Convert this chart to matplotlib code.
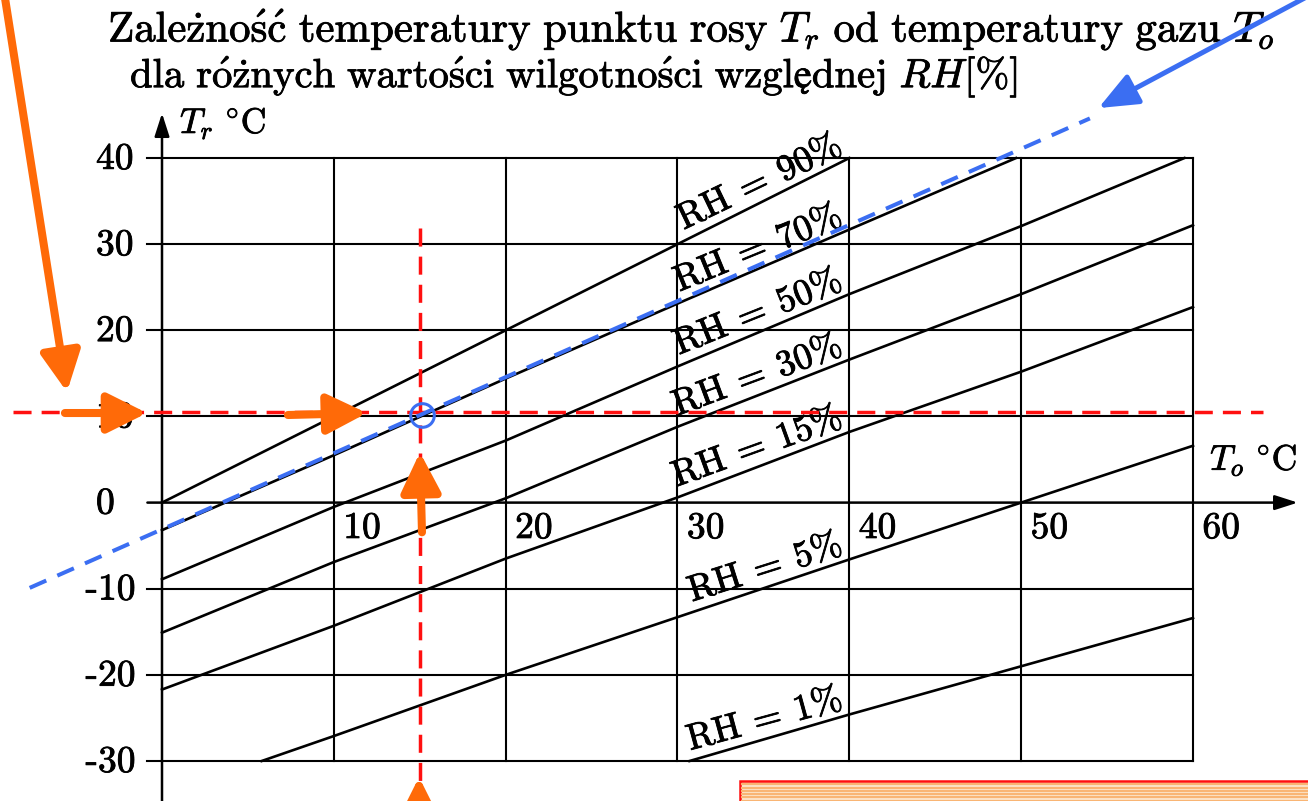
import numpy as np
import matplotlib.pyplot as plt
import matplotlib.patheffects as pe
from matplotlib.patches import Rectangle

plt.rcParams['mathtext.fontset'] = 'cm'

# dew point T_r vs gas temperature T_o
rh_names = ['90%', '70%', '50%', '30%', '15%', '5%', '1%']
to_90 = [0, 10, 20, 30, 40]
tr_90 = [0, 10, 20, 30, 40]
to_70 = [0, 10, 20, 30, 40, 49.7]
tr_70 = [-3.2, 5.5, 14.4, 23.1, 31.7, 40]
to_50 = [0, 10, 20, 30, 40, 50, 59.5]
tr_50 = [-8.9, -0.5, 7.2, 15.8, 24.2, 32.1, 40]
to_30 = [0, 10, 20, 30, 40, 50, 60]
tr_30 = [-15.1, -6.9, 0.5, 8.8, 16.6, 24.2, 32.2]
to_15 = [0, 10, 20, 30, 40, 50, 60]
tr_15 = [-21.7, -14.3, -6.5, 0.6, 8.2, 15.2, 22.7]
to_5 = [5.8, 10, 20, 30, 40, 50, 60]
tr_5 = [-30, -27.1, -20, -13.3, -6.6, 0, 6.6]
to_1 = [30.7, 40, 50, 60]
tr_1 = [-30, -24.6, -19.0, -13.4]
curves = [(to_90, tr_90), (to_70, tr_70), (to_50, tr_50), (to_30, tr_30),
          (to_15, tr_15), (to_5, tr_5), (to_1, tr_1)]

x_ticks = [10, 20, 30, 40, 50, 60]
y_ticks = [40, 30, 20, 10, 0, -10, -20, -30]

# worked example drawn over the chart
t_gas = 15.0
t_dew = 10.5
blue_to = [-7.7, 54.0]
blue_tr = [-9.9, 44.6]

# title, written as mathtext so it comes out in Computer Modern
title_1 = (r'$\mathrm{Zale\dot{z}no\acute{s}\acute{c}\ temperatury\ punktu\ rosy\ }T_r'
           r'\mathrm{\ od\ temperatury\ gazu\ }T_o$')
title_2 = (r'$\mathrm{dla\ r\acute{o}\dot{z}nych\ warto\acute{s}ci\ wilgotno\acute{s}ci'
           r'\ względnej\ }RH\mathrm{[\%]}$')

# pixel layout of the scan (data -> pixel)
W, H = 1308, 801
px0, pxs = 162.0, 17.183
py0, pys = 502.6, 8.614

fig = plt.figure(figsize=(W / 100, H / 100), dpi=100)
ax = fig.add_axes([0, 0, 1, 1])
ax.set_xlim(-px0 / pxs, (W - px0) / pxs)
ax.set_ylim(-(H - py0) / pys, py0 / pys)
ax.axis('off')

orange = '#ff6a08'
blue = '#3b6ef2'
red = '#ff1010'
ink = [pe.withStroke(linewidth=0.6, foreground='k')]


def arrow(tail, tip, color, lw, hl, hw, z=5):
    ax.annotate('', xy=tip, xytext=tail, annotation_clip=False, zorder=z,
                arrowprops=dict(arrowstyle=f'-|>,head_length={hl},head_width={hw}',
                                color=color, lw=lw, shrinkA=0, shrinkB=0,
                                mutation_scale=1))


# grid
for v in y_ticks:
    if v != 0:
        ax.plot([-0.85, 60], [v, v], color='k', lw=1.5, zorder=1)
for v in x_ticks:
    ax.plot([v, v], [-30, 40], color='k', lw=1.5, zorder=1)

# axes with arrows
arrow((0, ax.get_ylim()[0]), (0, 45.2), 'k', 1.8, 14, 4.5, z=2)
arrow((-0.85, 0), (66.1, 0), 'k', 1.8, 14, 4.5, z=2)
ax.text(1.05, 42.9, r'$T_r\ {}^{\circ}\mathrm{C}$', fontsize=25.5, ha='left', va='baseline',
        path_effects=ink)
ax.text(61.0, 3.8, r'$T_o\ {}^{\circ}\mathrm{C}$', fontsize=25.5, ha='left', va='baseline',
        path_effects=ink)

for v in y_ticks:
    xl = -4.45 if v < 0 else -3.84
    ax.text(xl, v - 1.25, str(v), fontfamily='cmr10', fontsize=27, ha='left', va='baseline',
            path_effects=ink)
for v in x_ticks:
    ax.text(v + 0.55, -4.1, str(v), fontfamily='cmr10', fontsize=27, ha='left', va='baseline',
            path_effects=ink)

# RH curves and their labels
for name, (to, tr) in zip(rh_names, curves):
    ax.plot(to, tr, color='k', lw=1.9, zorder=2)
    xl = 39.7
    s = (np.interp(xl, to, tr) - np.interp(xl - 4, to, tr)) / 4
    ang = np.degrees(np.arctan(s * pys / pxs)) - 1.0
    ax.text(xl, np.interp(xl, to, tr) + 0.9,
            r'$\mathrm{RH}\:=\:' + name.replace('%', r'\%') + '$',
            fontsize=26.5, rotation=ang, rotation_mode='anchor', ha='right', va='baseline',
            zorder=3, path_effects=ink)

# title
ax.text(-3.14, 53.5, title_1, fontsize=30.8, ha='left', va='baseline', path_effects=ink)
ax.text(-1.86, 48.2, title_2, fontsize=29.3, ha='left', va='baseline', path_effects=ink)

# red reading lines
ax.plot([-8.67, 64.07], [t_dew, t_dew], color=red, lw=2.5, dashes=(5.2, 2.9), zorder=4)
ax.plot([t_gas, t_gas], [31.9, -36], color=red, lw=2.5, dashes=(5.2, 2.9), zorder=4)

# blue dashed line + circle + arrow
ax.plot(blue_to, blue_tr, color=blue, lw=2.9, dashes=(4.5, 3.0), zorder=4)
ax.plot([t_gas + 0.13], [10.17], 'o', ms=17, mfc='none', mec=blue, mew=2.2, zorder=6)
arrow((66.8, 58.9), (54.5, 45.8), blue, 3.6, 24, 10)

# orange arrows
arrow((-9.14, 58.6), (-5.53, 12.84), orange, 5.8, 24, 12)
arrow((-5.65, 10.4), (-0.87, 10.4), orange, 5.8, 24, 12)
arrow((7.33, 10.17), (11.93, 10.4), orange, 5.8, 24, 12)
arrow((15.13, -3.45), (15.01, 5.84), orange, 5.8, 24, 12)
arrow((14.96, -39.0), (14.96, -31.86), orange, 5.8, 24, 12)

# striped box at bottom right
y_top = -32.32
ax.add_patch(Rectangle((33.64, -36), 40, y_top + 36, facecolor='#fde3c8',
                       edgecolor=red, lw=1.8, zorder=5))
for k in range(1, 8):
    ax.plot([33.75, 70], [y_top - 0.38 * k, y_top - 0.38 * k], color='#f9b574', lw=1.5, zorder=6)

fig.savefig('out.png', dpi=100)
